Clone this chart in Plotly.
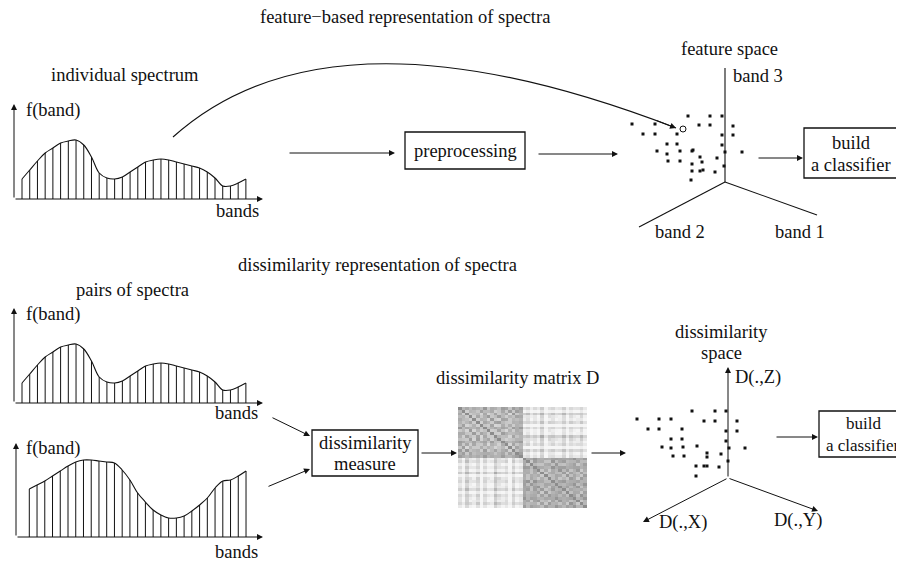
import plotly.graph_objects as go

W, H = 904, 565          # target window
OFF = 8                  # page body margin of the html page
FW, FH = W - OFF, H - OFF
FONT = "Liberation Serif"
FS = 18.5

# ---------------- data ----------------
# spectrum heights (f(band)) at each band, top "individual" spectrum == first of pair
spec_a = [20, 29, 38, 46, 51, 56, 58, 59, 54, 42, 26, 21, 20, 22, 27, 32, 37, 39,
          40, 39, 37, 35, 33, 31, 27, 21, 13, 13, 16, 20]
spec_b = [48, 52, 56, 61, 66, 71, 75, 77, 77, 76, 75, 74, 67, 57, 44, 35, 27, 22,
          19, 19, 21, 26, 32, 39, 49, 56, 57, 61, 66]

# projected points in feature space
feat_x = [688, 710, 722, 632, 655, 699, 710, 733, 643, 655, 677, 722, 733, 667, 677,
          722, 657, 680, 692, 693, 725, 742, 667, 700, 717, 668, 680, 702, 724, 692,
          692, 700, 703, 715, 691]
feat_y = [116, 116, 116, 124, 124, 125, 125, 126, 134, 134, 134, 135, 135, 144, 144,
          145, 151, 151, 151, 150, 152, 152, 154, 157, 158, 161, 161, 162, 166, 164,
          171, 171, 170, 172, 180]
query_x = [683]
query_y = [129]

# projected points in dissimilarity space
dis_x = [692, 715, 726, 637, 659, 671, 704, 715, 737, 648, 659, 682, 726, 737, 671,
         682, 726, 662, 671, 683, 697, 729, 745, 673, 684, 707, 721, 707, 696, 704,
         707, 719, 728, 696]
dis_y = [411, 411, 411, 419, 419, 419, 421, 421, 421, 429, 429, 429, 431, 431, 439,
         439, 441, 447, 448, 447, 446, 448, 448, 456, 456, 453, 454, 457, 466, 466,
         466, 467, 461, 476]

# objects (two classes) used for the dissimilarity matrix D
class_a_f1 = [0.3, -0.8, 1.1, 0.2, -0.4, 0.9, -1.2, 0.5, 0.0, -0.6, 1.3, 0.7, -0.2, 0.4, -1.0, 0.8, -0.3, 0.1]
class_a_f2 = [0.5, -0.2, 0.8, -0.9, 1.1, -0.5, 0.3, 0.2, -1.3, 0.7, 0.1, -1.0, 0.4, 1.2, -0.7, 0.6, -0.4, 0.0]
class_b_f1 = [3.2, 2.5, 3.8, 2.9, 3.5, 2.2, 4.1, 3.0, 2.7, 3.6, 3.3, 2.4, 3.9, 2.8, 3.4, 3.1, 2.6, 3.7]
class_b_f2 = [0.6, 1.2, -0.1, 0.9, 1.5, 0.3, 0.8, -0.4, 1.0, 0.2, 1.3, 0.7, 1.1, 0.0, 0.4, 1.6, -0.2, 0.5]

f1 = class_a_f1 + class_b_f1
f2 = class_a_f2 + class_b_f2
n = len(f1)
D = [[((f1[i] - f1[j]) ** 2 + (f2[i] - f2[j]) ** 2) ** 0.5 for j in range(n)] for i in range(n)]

# ---------------- figure ----------------
fig = go.Figure()
BLACK = "#111"

# spectra panels: (axis id, data, first-band px, band step px, baseline px)
panels = [
    ("2", spec_a, 22.0, 7.72, 199.0),
    ("3", spec_a, 22.0, 7.72, 403.0),
    ("4", spec_b, 29.3, 7.74, 537.0),
]
for ax_id, vals, x0, dx, base in panels:
    idx = list(range(len(vals)))
    bx, by = [], []
    for i, v in zip(idx, vals):
        bx += [i, i, None]
        by += [0, v, None]
    fig.add_trace(go.Scatter(x=bx, y=by, mode="lines", xaxis="x" + ax_id, yaxis="y" + ax_id,
                             line=dict(color=BLACK, width=1), hoverinfo="skip", showlegend=False))
    fig.add_trace(go.Scatter(x=idx, y=vals, mode="lines", xaxis="x" + ax_id, yaxis="y" + ax_id,
                             line=dict(color=BLACK, width=1.1, shape="spline", smoothing=1.0),
                             hoverinfo="skip", showlegend=False))
    fig.layout["xaxis" + ax_id] = dict(domain=[0, 1], range=[(OFF - x0) / dx, (W - x0) / dx],
                                      visible=False, anchor="y" + ax_id, fixedrange=True)
    fig.layout["yaxis" + ax_id] = dict(domain=[0, 1], range=[base - H, base - OFF], visible=False,
                                      anchor="x" + ax_id, fixedrange=True)

# feature space points
fig.add_trace(go.Scatter(x=feat_x, y=feat_y, mode="markers", xaxis="x", yaxis="y",
                         marker=dict(symbol="square", size=3, color=BLACK, line=dict(width=0)),
                         hoverinfo="skip", showlegend=False))
fig.add_trace(go.Scatter(x=query_x, y=query_y, mode="markers", xaxis="x", yaxis="y",
                         marker=dict(symbol="circle-open", size=6, color=BLACK, line=dict(width=1)),
                         hoverinfo="skip", showlegend=False))
# dissimilarity space points
fig.add_trace(go.Scatter(x=dis_x, y=dis_y, mode="markers", xaxis="x", yaxis="y",
                         marker=dict(symbol="square", size=3, color=BLACK, line=dict(width=0)),
                         hoverinfo="skip", showlegend=False))

# dissimilarity matrix
fig.add_trace(go.Heatmap(z=D, xaxis="x5", yaxis="y5", zmin=0, zmax=4.0,
                         colorscale=[[0, "#8c8c8c"], [0.45, "#c8c8c8"], [1, "#f6f6f6"]],
                         showscale=False, hoverinfo="skip"))


def xdom(a, b):
    return [(a - OFF) / FW, (b - OFF) / FW]


def ydom(top, bottom):
    return [1 - (bottom - OFF) / FH, 1 - (top - OFF) / FH]


fig.layout["xaxis5"] = dict(domain=xdom(458, 587), visible=False, anchor="y5", fixedrange=True)
fig.layout["yaxis5"] = dict(domain=ydom(407, 508), visible=False, anchor="x5",
                            autorange="reversed", fixedrange=True)

# main canvas axis (window pixel coordinates)
fig.update_layout(
    xaxis=dict(domain=[0, 1], range=[OFF, W], visible=False, fixedrange=True),
    yaxis=dict(domain=[0, 1], range=[H, OFF], visible=False, fixedrange=True),
)

shapes = []


def line(x0, y0, x1, y1, w=1.1):
    shapes.append(dict(type="line", xref="x", yref="y", x0=x0, y0=y0, x1=x1, y1=y1,
                       line=dict(color=BLACK, width=w)))


def rect(x0, y0, x1, y1):
    shapes.append(dict(type="rect", xref="x", yref="y", x0=x0, y0=y0, x1=x1, y1=y1,
                       line=dict(color=BLACK, width=1.3), fillcolor="rgba(0,0,0,0)"))


rect(405, 132, 525, 169)          # preprocessing
rect(804, 128, 898, 178)          # build a classifier (top)
rect(312, 430, 418, 476)          # dissimilarity measure
rect(819, 411, 913, 457)          # build a classifier (bottom)

# feature space axes
line(725, 68, 725, 182)
line(725, 182, 639, 227)
line(725, 182, 817, 215)

# curved arrow
shapes.append(dict(type="path", xref="x", yref="y", path="M 173,137 Q 331,-5 676,128",
                   line=dict(color=BLACK, width=1.1)))

annotations = []


def arrow(x0, y0, x1, y1):
    annotations.append(dict(x=x1, y=y1, ax=x0, ay=y0, xref="x", yref="y", axref="x", ayref="y",
                            text="", showarrow=True, arrowhead=2, arrowsize=1.2, arrowwidth=1,
                            arrowcolor=BLACK, standoff=0, startstandoff=0))


def txt(x, y, s, anchor="center", size=FS):
    annotations.append(dict(x=x, y=y, xref="x", yref="y", text=s, showarrow=False,
                            xanchor=anchor, yanchor="middle",
                            font=dict(family=FONT, size=size, color=BLACK)))


# spectrum axes
for (vx, base, tip) in [(14, 199, 104), (14, 403, 308), (16, 537, 443)]:
    arrow(vx, base, vx, tip)
    arrow(vx, base, 263, base)

# flow arrows
arrow(288, 153, 395, 153)
arrow(537, 154, 618, 154)
arrow(757, 158, 803, 158)
arrow(271, 417, 310, 436)
arrow(267, 487, 310, 469)
arrow(420, 453, 457, 453)
arrow(590, 453, 626, 453)
arrow(775, 437, 818, 437)
arrow(655.3, 120, 676, 128)

# dissimilarity space axes
arrow(728, 478, 728, 367)
arrow(728, 478, 643, 522)
arrow(728, 478, 818, 511)

# texts
txt(405, 17, "feature\u2212based representation of spectra")
txt(125, 75, "individual spectrum")
txt(24, 110, "f(band)", anchor="left")
txt(237, 211, "bands")
txt(465, 151, "preprocessing")
txt(729, 49, "feature space")
txt(758, 76, "band 3")
txt(680, 232, "band 2")
txt(800, 232, "band 1")
txt(851, 143, "build")
txt(851, 165, "a classifier")

txt(377, 265, "dissimilarity representation of spectra")
txt(132, 290, "pairs of spectra")
txt(24, 314, "f(band)", anchor="left")
txt(236, 413, "bands")
txt(24, 448, "f(band)", anchor="left")
txt(236, 552, "bands")
txt(365, 443, "dissimilarity")
txt(365, 464, "measure")
txt(517, 378, "dissimilarity matrix D")
txt(721, 332, "dissimilarity")
txt(721, 353, "space")
txt(758, 377, "D(.,Z)")
txt(683, 522, "D(.,X)")
txt(798, 520, "D(.,Y)")
txt(863, 423, "build", size=17)
txt(862, 445, "a classifier", size=17)

fig.update_layout(
    width=FW, height=FH, autosize=False,
    margin=dict(l=0, r=0, t=0, b=0),
    paper_bgcolor="white", plot_bgcolor="rgba(0,0,0,0)",
    shapes=shapes, annotations=annotations,
    showlegend=False,
)

fig.write_html("out.html", config={"displayModeBar": False})
